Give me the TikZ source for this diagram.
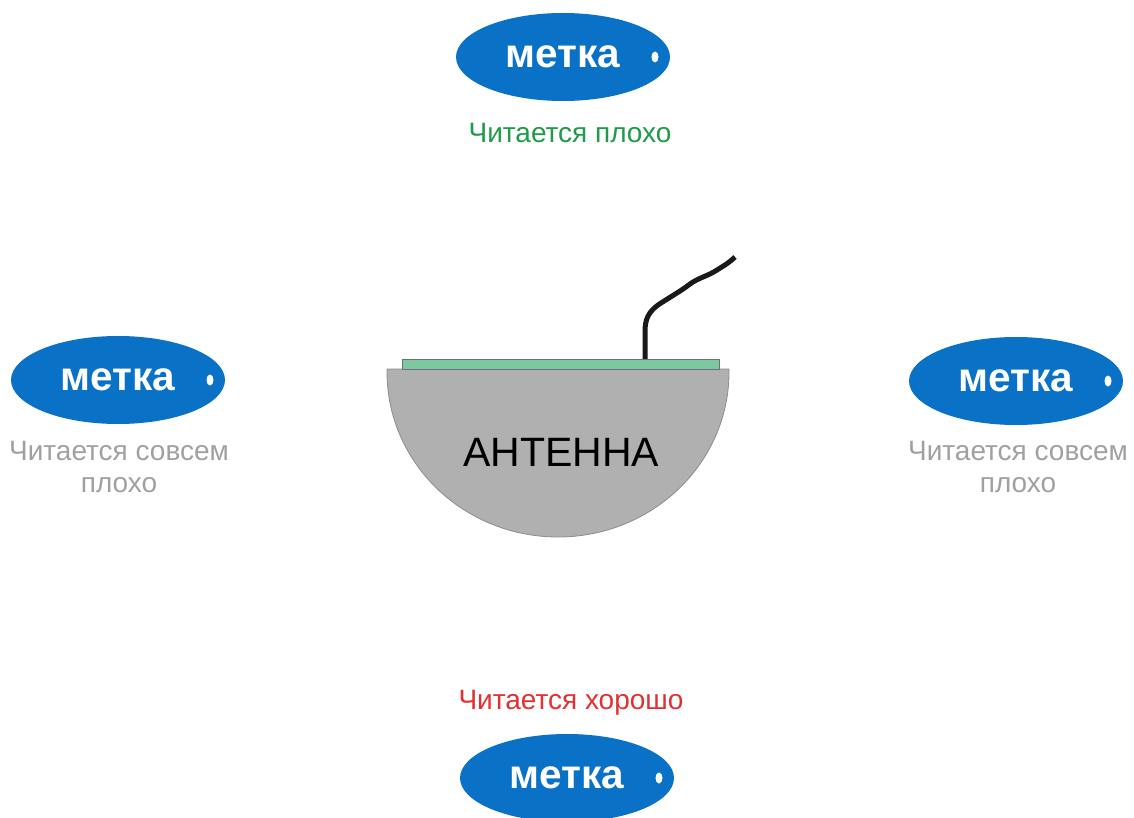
\documentclass[tikz,border=0pt]{standalone}
\usepackage{fontspec}
\setmainfont{Liberation Sans}
\usetikzlibrary{shapes.geometric}
\definecolor{tagblue}{RGB}{10,114,198}
\definecolor{goodred}{RGB}{226,48,48}
\definecolor{badgreen}{RGB}{30,155,72}
\definecolor{worsegray}{RGB}{160,160,160}
\definecolor{antgray}{RGB}{176,176,176}
\definecolor{antedge}{RGB}{140,140,140}
\definecolor{stripgreen}{RGB}{124,200,160}
\begin{document}
\begin{tikzpicture}[x=1pt,y=-1pt,
  tagbody/.style={ellipse,fill=tagblue,minimum width=214pt,minimum height=88pt,inner sep=0pt,
    text=white,font=\fontsize{40.5}{41}\selectfont\bfseries},
  taghole/.style={ellipse,fill=white,minimum width=7pt,minimum height=11pt,inner sep=0pt},
  lbl/.style={font=\fontsize{28}{32}\selectfont,align=center,inner sep=0pt}]
\useasboundingbox (0,0) rectangle (1134,818);
% antenna body
\fill[antgray,draw=antedge,line width=0.8pt] (387,369) -- (729,369) -- (729,372)
  arc[start angle=0,end angle=180,x radius=171,y radius=165] -- cycle;
\node[font=\fontsize{41}{41}\selectfont,inner sep=0pt] (antlabel) at (561,452) {АНТЕННА};
% cable
\coordinate (cabletop) at (735,257);
\coordinate (cablebase) at (645,361);
\draw[line width=5pt,black!90] (cablebase) -- (645,332)
  .. controls (645,318) and (649,312) .. (658,305)
  .. controls (670,297) and (681,291) .. (690,284)
  .. controls (698,278) and (708,276) .. (717,270)
  .. controls (725,265) and (730,262) .. (cabletop);
% green strip
\node[draw=antedge!80!black,line width=0.6pt,fill=stripgreen,minimum width=317pt,minimum height=10pt,inner sep=0pt] (strip) at (560.5,364) {};
% tags
\node[tagbody] (tagtop) at (563,57) {метка};
\node[taghole] (holetop) at (655,57) {};
\node[tagbody] (tagleft) at (118,380) {метка};
\node[taghole] (holeleft) at (210,380) {};
\node[tagbody] (tagright) at (1016,381) {метка};
\node[taghole] (holeright) at (1108,381) {};
\node[tagbody] (tagbottom) at (567,778) {метка};
\node[taghole] (holebottom) at (659,778) {};
% labels
\node[lbl,text=badgreen] (lbltop) at (570,133) {Читается плохо};
\node[lbl,text=worsegray] (lblleft) at (119,467) {Читается совсем\\плохо};
\node[lbl,text=worsegray] (lblright) at (1018,467) {Читается совсем\\плохо};
\node[lbl,text=goodred] (lblbottom) at (571,703) {Читается хорошо};
\end{tikzpicture}
\end{document}
